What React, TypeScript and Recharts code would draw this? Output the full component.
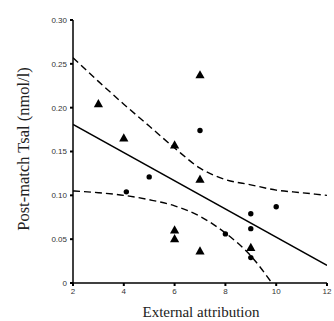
// Post-match Tsal vs external attribution — scatter with regression line
// and 95% confidence bands (dashed).

import React from 'react'
import {
  ComposedChart,
  Line,
  Scatter,
  XAxis,
  YAxis,
  Label,
} from 'recharts'

type Pt = { x: number; y: number }

// triangles
const triangles: Pt[] = [
  { x: 3, y: 0.205 },
  { x: 4, y: 0.166 },
  { x: 6, y: 0.158 },
  { x: 6, y: 0.061 },
  { x: 6, y: 0.051 },
  { x: 7, y: 0.238 },
  { x: 7, y: 0.119 },
  { x: 7, y: 0.037 },
  { x: 9, y: 0.041 },
]

// circles
const circles: Pt[] = [
  { x: 4.1, y: 0.104 },
  { x: 5, y: 0.121 },
  { x: 7, y: 0.174 },
  { x: 8, y: 0.056 },
  { x: 9, y: 0.079 },
  { x: 9, y: 0.062 },
  { x: 9, y: 0.029 },
  { x: 10, y: 0.087 },
]

const regression: Pt[] = [
  { x: 2, y: 0.181 },
  { x: 12, y: 0.020 },
]

const upperBand: Pt[] = [
  { x: 2, y: 0.257 },
  { x: 3, y: 0.230 },
  { x: 4, y: 0.204 },
  { x: 5, y: 0.179 },
  { x: 6, y: 0.154 },
  { x: 7, y: 0.131 },
  { x: 8, y: 0.118 },
  { x: 9, y: 0.112 },
  { x: 10, y: 0.106 },
  { x: 11, y: 0.103 },
  { x: 12, y: 0.100 },
]

const lowerBand: Pt[] = [
  { x: 2, y: 0.105 },
  { x: 3, y: 0.103 },
  { x: 4, y: 0.100 },
  { x: 5, y: 0.095 },
  { x: 6, y: 0.088 },
  { x: 7, y: 0.076 },
  { x: 8, y: 0.057 },
  { x: 9, y: 0.031 },
  { x: 9.83, y: 0 },
]

const xTicks = [2, 4, 6, 8, 10, 12]
const yTicks = [0, 0.05, 0.1, 0.15, 0.2, 0.25, 0.3]

const fmtY = (v: number) => (v === 0 ? '0' : v.toFixed(2))

const tickStyle = { fontSize: 8, fill: '#333', fontFamily: 'Liberation Sans, Arial, sans-serif' }

function Triangle(props: any) {
  const { cx, cy } = props
  if (cx == null || cy == null) return <g />
  return (
    <polygon
      points={`${cx - 4.6},${cy + 4} ${cx + 4.6},${cy + 4} ${cx},${cy - 4.2}`}
      fill="#000"
    />
  )
}

function Dot(props: any) {
  const { cx, cy } = props
  if (cx == null || cy == null) return <g />
  return <circle cx={cx} cy={cy} r={2.7} fill="#000" />
}

const XTitle = () => (
  <text
    x={201}
    y={317}
    textAnchor="middle"
    fontSize={15}
    fontFamily="Liberation Serif, Times New Roman, serif"
    fill="#222"
  >
    External attribution
  </text>
)

const YTitle = () => (
  <text
    x={29}
    y={149}
    transform="rotate(-90 29 149)"
    textAnchor="middle"
    fontSize={16.5}
    fontFamily="Liberation Serif, Times New Roman, serif"
    fill="#222"
  >
    Post-match Tsal (nmol/l)
  </text>
)

export default function App() {
  return (
    <div style={{ position: 'absolute', left: 0, top: 0, background: '#fff' }}>
      <ComposedChart
        width={334}
        height={321}
        margin={{ top: 20, right: 7, left: 0, bottom: 0 }}
      >
        <XAxis
          type="number"
          dataKey="x"
          domain={[2, 12]}
          ticks={xTicks}
          height={38}
          tickSize={3}
          tickMargin={2}
          tick={tickStyle}
          axisLine={{ stroke: '#000', strokeWidth: 1.5 }}
          tickLine={{ stroke: '#000', strokeWidth: 2 }}
          allowDataOverflow
        >
          <Label content={<XTitle />} />
        </XAxis>
        <YAxis
          type="number"
          dataKey="y"
          domain={[0, 0.3]}
          ticks={yTicks}
          width={73}
          tickSize={3}
          tickMargin={3}
          tickFormatter={fmtY}
          tick={tickStyle}
          axisLine={{ stroke: '#000', strokeWidth: 1.5 }}
          tickLine={{ stroke: '#000', strokeWidth: 2 }}
          allowDataOverflow
        >
          <Label content={<YTitle />} />
        </YAxis>

        <Line
          data={upperBand}
          dataKey="y"
          type="monotone"
          stroke="#000"
          strokeWidth={1.4}
          strokeDasharray="7 4"
          dot={false}
          activeDot={false}
          isAnimationActive={false}
        />
        <Line
          data={lowerBand}
          dataKey="y"
          type="monotone"
          stroke="#000"
          strokeWidth={1.4}
          strokeDasharray="7 4"
          dot={false}
          activeDot={false}
          isAnimationActive={false}
        />
        <Line
          data={regression}
          dataKey="y"
          type="linear"
          stroke="#000"
          strokeWidth={1.5}
          dot={false}
          activeDot={false}
          isAnimationActive={false}
        />
        <Scatter data={triangles} dataKey="y" shape={<Triangle />} isAnimationActive={false} />
        <Scatter data={circles} dataKey="y" shape={<Dot />} isAnimationActive={false} />
      </ComposedChart>
    </div>
  )
}
